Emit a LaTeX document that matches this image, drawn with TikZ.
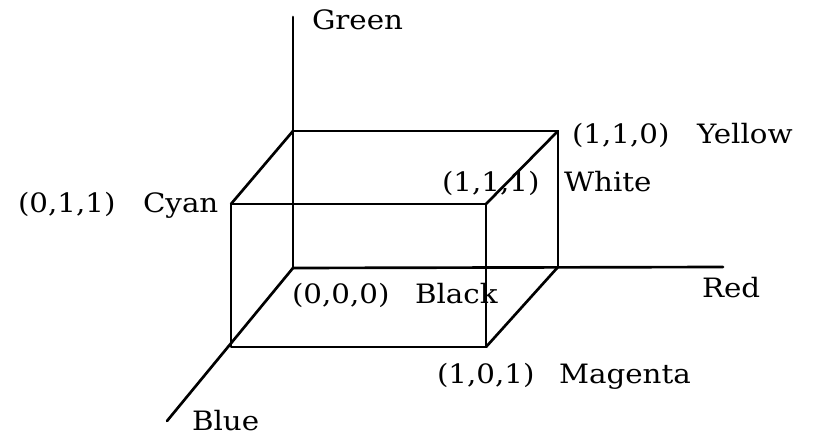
\documentclass[tikz,border=0pt]{standalone}
\usepackage{fontspec}
\setmainfont{DejaVu Serif}
\newcommand{\wlbl}[1]{\scalebox{1.1}[1]{#1}}
\begin{document}
\begin{tikzpicture}[x=0.75pt,y=-0.75pt,
  edge/.style={line width=2pt,line cap=round,line join=round},
  lbl/.style={anchor=base west,inner sep=0pt,outer sep=0pt,font=\fontsize{20}{22}\selectfont}]
\useasboundingbox[fill=white] (0,0) rectangle (815,435);
% vertices
\coordinate (O) at (293,268);
\coordinate (gtop) at (293,17);
\coordinate (rend) at (723,267);
\coordinate (bend) at (167,421);
\coordinate (bTL) at (293,131);
\coordinate (bTR) at (558,131);
\coordinate (bBR) at (558,267);
\coordinate (fTL) at (231,204);
\coordinate (fTR) at (486,204);
\coordinate (fBR) at (486,347);
\coordinate (fBL) at (231,347);
% axes
\draw[edge] (O) -- (gtop);
\draw[edge] (O) -- (rend);
\draw[edge] (O) -- (bend);
% back face
\draw[edge] (bTL) -- (bTR) -- (bBR);
% front face
\draw[edge] (fTL) -- (fTR) -- (fBR) -- (fBL) -- cycle;
% depth edges
\draw[edge] (bTL) -- (fTL);
\draw[edge] (bTR) -- (fTR);
\draw[edge] (bBR) -- (fBR);
% labels
\node[lbl] (lgreen) at (312,30) {\wlbl{Green}};
\node[lbl] (lred) at (702,297) {\wlbl{Red}};
\node[lbl] (lblue) at (192,430) {\wlbl{Blue}};
\node[lbl] (c011) at (18,213) {\wlbl{(0,1,1)}};
\node[lbl] (ncyan) at (143,213) {\wlbl{Cyan}};
\node[lbl] (c110) at (572,143) {\wlbl{(1,1,0)}};
\node[lbl] (nyellow) at (697,143) {\wlbl{Yellow}};
\node[lbl] (c111) at (442,191) {\wlbl{(1,1,1)}};
\node[lbl] (nwhite) at (564,191) {\wlbl{White}};
\node[lbl] (c000) at (292,303) {\wlbl{(0,0,0)}};
\node[lbl] (nblack) at (415,303) {\wlbl{Black}};
\node[lbl] (c101) at (437,383) {\wlbl{(1,0,1)}};
\node[lbl] (nmagenta) at (559,383) {\wlbl{Magenta}};
\end{tikzpicture}
\end{document}
